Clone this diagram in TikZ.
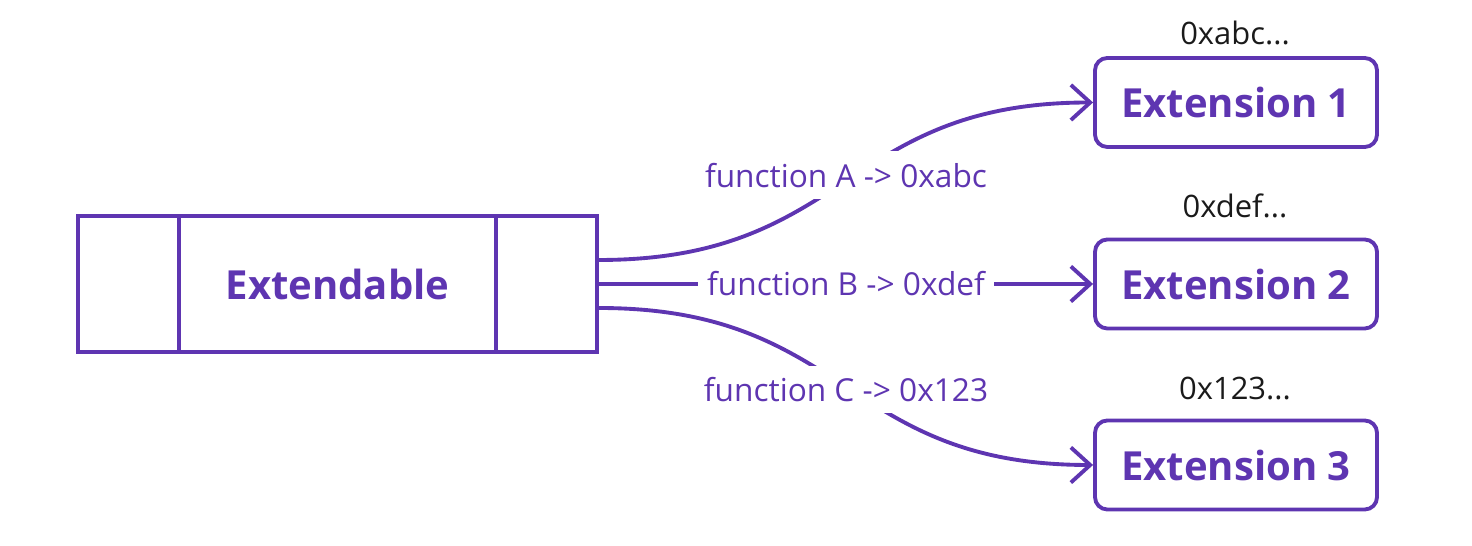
\documentclass[tikz,border=0pt]{standalone}
\usepackage{fontspec}
\setmainfont{Open Sans}
\usetikzlibrary{arrows.meta, calc}
\definecolor{myviolet}{HTML}{5E35B1}
\definecolor{addrgray}{HTML}{1A1A1A}

\begin{document}
\begin{tikzpicture}[>={Straight Barb[length=5.5pt,width=10pt]},
    extbox/.style={draw=myviolet, line width=1.1pt, text=myviolet,
        font=\fontsize{11.4}{13}\selectfont\bfseries},
    plugbox/.style={extbox, rounded corners=3.5pt,
        minimum width=2.82cm, minimum height=0.89cm},
    link/.style={->, myviolet, line width=1.1pt},
    fnlabel/.style={fill=white, text=myviolet, inner xsep=2.5pt,
        font=\fontsize{9}{11}\selectfont},
    addr/.style={anchor=base, text=addrgray, font=\fontsize{8.8}{10}\selectfont}]
    \useasboundingbox (0,0) rectangle (14.72,5.46);
    % the extendable contract
    \node[extbox, minimum width=5.19cm, minimum height=1.36cm] (ext) at (3.375,2.62) {Extendable};
    \draw[myviolet, line width=1.1pt] ($(ext.north west)+(1.03,0)$) -- ($(ext.south west)+(1.03,0)$);
    \draw[myviolet, line width=1.1pt] ($(ext.north east)+(-1.03,0)$) -- ($(ext.south east)+(-1.03,0)$);
    % extensions
    \node[plugbox] (ext1) at (12.36,4.435) {Extension 1};
    \node[plugbox] (ext2) at (12.36,2.62) {Extension 2};
    \node[plugbox] (ext3) at (12.36,0.81) {Extension 3};
    \node[addr] (addr1) at (12.35,5.01) {0xabc...};
    \node[addr] (addr2) at (12.35,3.28) {0xdef...};
    \node[addr] (addr3) at (12.35,1.46) {0x123...};
    % function table
    \draw[link] ([yshift=2.4mm]ext.east) .. controls +(2.5,0) and +(-2.5,0) .. (ext1.west)
        node[fnlabel, pos=0.5, yshift=0.6mm] {function A -> 0xabc};
    \draw[link] (ext.east) -- (ext2.west)
        node[fnlabel, pos=0.5] {function B -> 0xdef};
    \draw[link] ([yshift=-2.4mm]ext.east) .. controls +(2.5,0) and +(-2.5,0) .. (ext3.west)
        node[fnlabel, pos=0.5, yshift=-0.3mm] {function C -> 0x123};
\end{tikzpicture}
\end{document}
